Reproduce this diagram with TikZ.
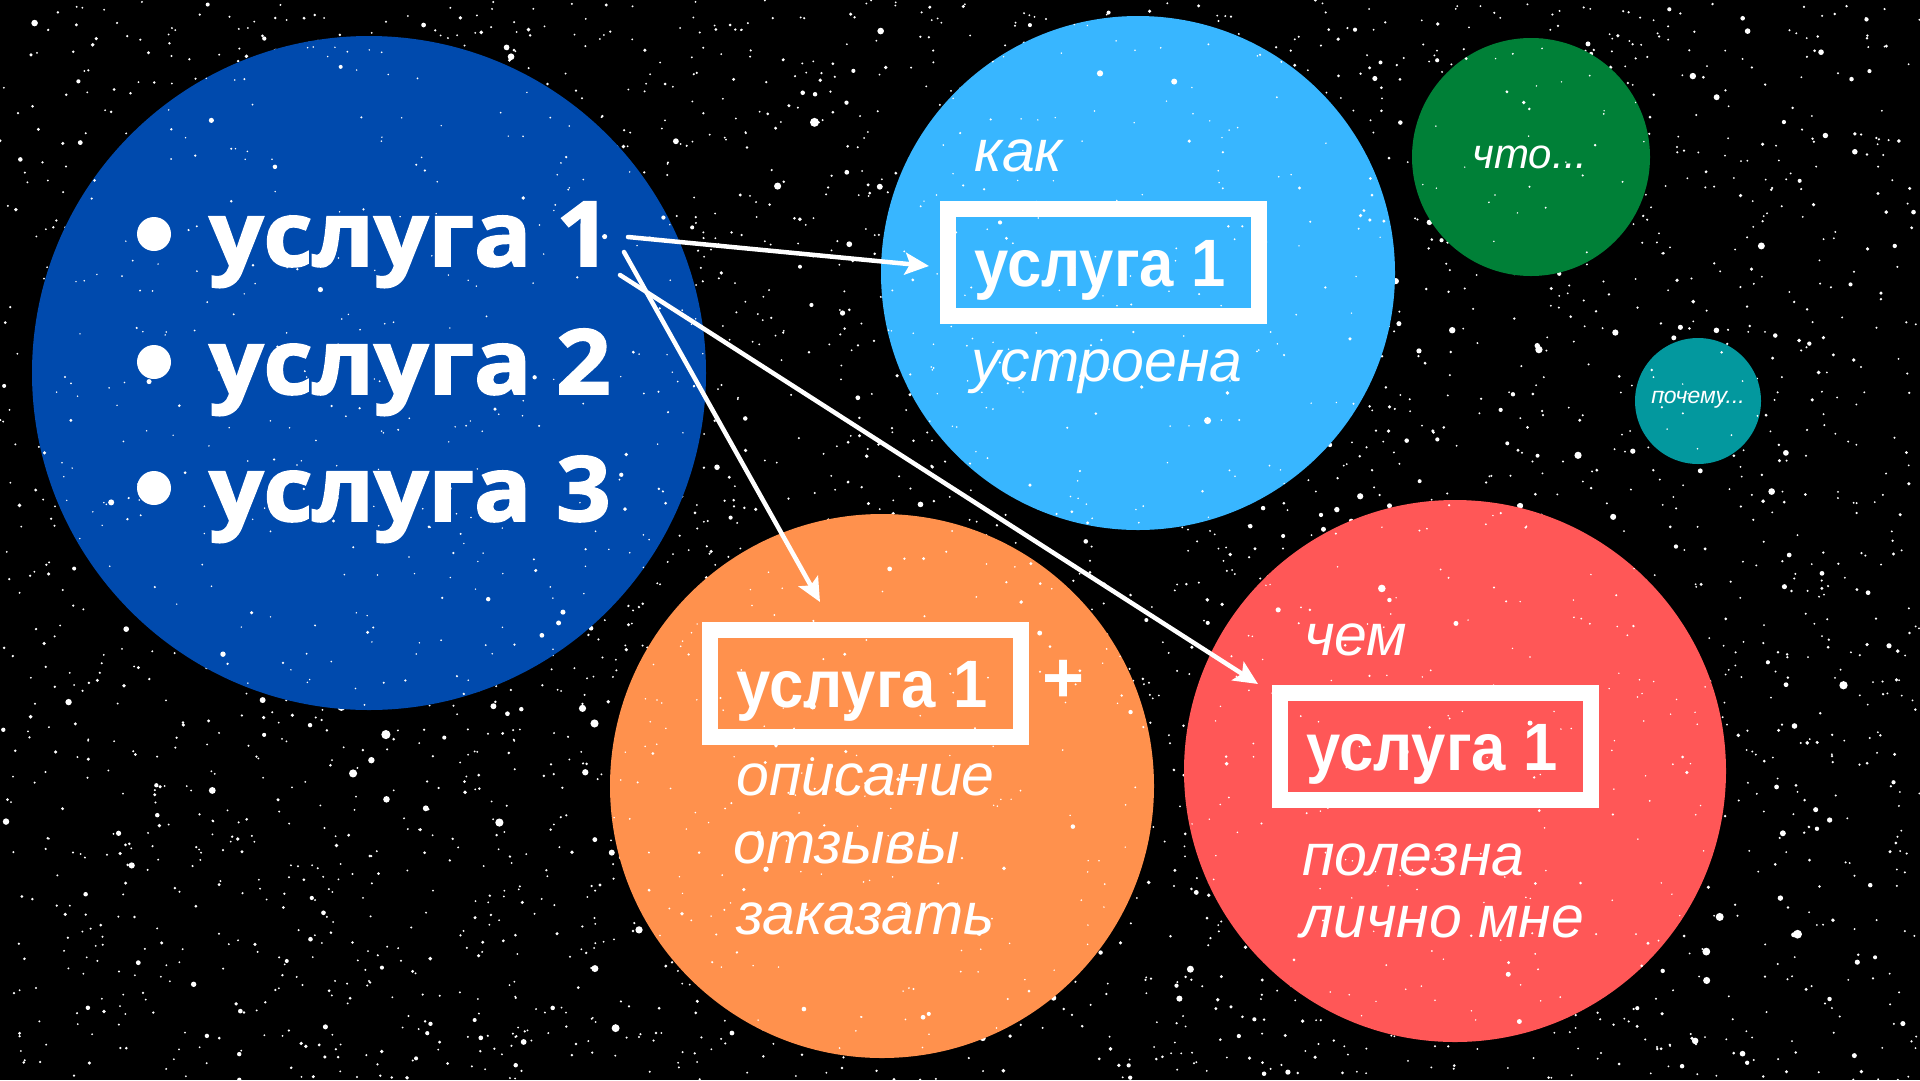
\documentclass[tikz,border=0pt]{standalone}
\usepackage{fontspec}
\setmainfont{Liberation Sans}
\newfontfamily\listfont{Open Sans}[FakeStretch=1.06, BoldFeatures={FakeBold=2}]
\newfontfamily\boxfont{Liberation Sans}[FakeStretch=0.92]
\usetikzlibrary{arrows.meta}
\definecolor{cdblue}{HTML}{004AAD}
\definecolor{csky}{HTML}{38B6FF}
\definecolor{cgreen}{HTML}{008037}
\definecolor{cteal}{HTML}{03989E}
\definecolor{corange}{HTML}{FF914D}
\definecolor{cred}{HTML}{FF5757}
\tikzset{
  planet/.style={circle, inner sep=0pt, draw=none},
  dotbullet/.style={circle, fill=white, minimum size=34pt, inner sep=0pt},
  listtxt/.style={anchor=base west, inner sep=0pt, text=white, font=\listfont\bfseries\fontsize{90}{90}\selectfont},
  boxtxt/.style={anchor=base, inner sep=0pt, text=white, font=\boxfont\bfseries\fontsize{67}{67}\selectfont},
  svcframe/.style={draw=white, line width=16pt, minimum width=311pt, minimum height=107pt, inner sep=0pt},
  itxt/.style={anchor=base west, inner sep=0pt, text=white, font=\itshape\fontsize{59}{59}\selectfont},
  arr/.style={draw=white, line width=4.5pt, line cap=round, -{Stealth[length=24pt,width=22pt,inset=5pt]}},
}
\begin{document}
\begin{tikzpicture}[x=1pt,y=-1pt]
\fill[black] (0,0) rectangle (1920,1080);
\useasboundingbox (0,0) rectangle (1920,1080);
% stars
\pgfmathsetseed{7}
\foreach \i in {1,...,4200}{
  \pgfmathsetmacro{\sx}{rnd*1920}
  \pgfmathsetmacro{\sy}{rnd*1080}
  \pgfmathsetmacro{\sr}{1.0+5.2*rnd*rnd*rnd*rnd}
  \fill[white] (\sx,\sy) circle (\sr);
}
% planets
\node[planet, fill=cdblue, minimum size=674pt] (bigc) at (369,373) {};
\node[planet, fill=csky, minimum size=514pt] (skyc) at (1138,273) {};
\node[planet, fill=cgreen, minimum size=238pt] (greenc) at (1531,157) {};
\node[planet, fill=cteal, minimum size=126pt] (tealc) at (1698,401) {};
\node[planet, fill=corange, minimum size=544pt] (orangec) at (882,786) {};
\node[planet, fill=cred, minimum size=542pt] (redc) at (1455,771) {};
% speckles on planets
\begin{scope}
\clip (369,373) circle (337) (1138,273) circle (257) (1531,157) circle (119)
      (1698,401) circle (63) (882,786) circle (272) (1455,771) circle (271);
\pgfmathsetseed{11}
\foreach \i in {1,...,1800}{
  \pgfmathsetmacro{\sx}{rnd*1920}
  \pgfmathsetmacro{\sy}{rnd*1080}
  \pgfmathsetmacro{\sr}{0.8+4.5*rnd*rnd*rnd*rnd}
  \fill[white] (\sx,\sy) circle (\sr);
}
\end{scope}
% list
\node[dotbullet] (b1) at (154,234) {};
\node[dotbullet] (b2) at (154,362) {};
\node[dotbullet] (b3) at (154,488) {};
\node[listtxt] (l1) at (209,266) {услуга 1};
\node[listtxt] (l2) at (209,394) {услуга 2};
\node[listtxt] (l3) at (209,521) {услуга 3};
% sky planet
\node[itxt] (kak) at (974,171) {как};
\node[svcframe] (skybox) at (1103,262) {};
\node[boxtxt] (skyt) at (1100,286) {услуга 1};
\node[itxt] (ustr) at (971,381) {устроена};
% orange planet
\node[svcframe] (orbox) at (865,683) {};
\node[boxtxt] (ort) at (862,707) {услуга 1};
\node[inner sep=0pt, text=white, font=\bfseries\fontsize{72}{72}\selectfont] (plus) at (1064,681) {+};
\node[itxt] (op1) at (736,795) {описание};
\node[itxt] (op2) at (733,863) {отзывы};
\node[itxt] (op3) at (736,934) {заказать};
% red planet
\node[itxt] (chem) at (1304,655) {чем};
\node[svcframe] (redbox) at (1435,746) {};
\node[boxtxt] (redt) at (1432,770) {услуга 1};
\node[itxt] (pol1) at (1302,875) {полезна};
\node[itxt] (pol2) at (1300,937) {лично мне};
% small planets
\node[inner sep=0pt, text=white, font=\itshape\fontsize{42}{42}\selectfont] (chto) at (1530,157) {что...};
\node[inner sep=0pt, text=white, font=\itshape\fontsize{23}{23}\selectfont] (poch) at (1698,400) {почему...};
% arrows
\coordinate (a1s) at (628,237);
\coordinate (a1e) at (929,266);
\coordinate (a2s) at (624,252);
\coordinate (a2e) at (820,602);
\coordinate (a3s) at (620,275);
\coordinate (a3e) at (1258,684);
\draw[arr] (a1s) -- (a1e);
\draw[arr] (a2s) -- (a2e);
\draw[arr] (a3s) -- (a3e);
\end{tikzpicture}
\end{document}
